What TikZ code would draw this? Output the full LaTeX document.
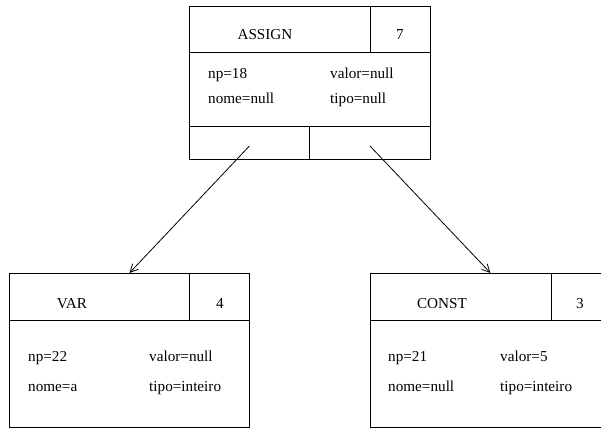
\documentclass[tikz,border=0pt]{standalone}
\usepackage{fontspec}
\setmainfont{Liberation Serif}
\usetikzlibrary{arrows.meta,positioning}

\begin{document}
\begin{tikzpicture}[
  x=1pt, y=-1pt,
  cell/.style={draw, line width=0.9pt, anchor=north west, inner sep=0pt, minimum width=#1},
  hdr/.style={cell=#1, minimum height=47pt},
  txt/.style={font=\fontsize{15.2pt}{18pt}\selectfont, inner sep=0pt, anchor=base},
  field/.style={txt, anchor=base west},
  arrow/.style={-{Straight Barb[length=8pt,width=8pt]}, line width=0.8pt}
]
  \useasboundingbox (0,0) rectangle (601,430);
  \begin{scope}
  \clip (0,0) rectangle (601,430);

  % ASSIGN
  \node[hdr=181pt, minimum height=46pt] (assignName) at (189,6) {};
  \node[hdr=60pt, minimum height=46pt] (assignNum) at (370,6) {};
  \node[cell=241pt, minimum height=74pt] (assignBody) at (189,52) {};
  \node[cell=120pt, minimum height=33pt] (assignL) at (189,126) {};
  \node[cell=121pt, minimum height=33pt] (assignR) at (309,126) {};
  \node[txt] at (265,40) {ASSIGN};
  \node[txt] at (400,40) {7};
  \node[field] at (208,79) {np=18};
  \node[field] at (330,79) {valor=null};
  \node[field] at (208,104) {nome=null};
  \node[field] at (330,104) {tipo=null};

  % VAR
  \node[hdr=180pt] (varName) at (9,273) {};
  \node[hdr=60pt] (varNum) at (189,273) {};
  \node[cell=240pt, minimum height=107pt] (varBody) at (9,320) {};
  \node[txt] at (72,308) {VAR};
  \node[txt] at (220,308) {4};
  \node[field] at (28,361) {np=22};
  \node[field] at (149,361) {valor=null};
  \node[field] at (28,391) {nome=a};
  \node[field] at (149,391) {tipo=inteiro};

  % CONST
  \node[hdr=181pt] (constName) at (370,273) {};
  \node[hdr=59pt] (constNum) at (551,273) {};
  \node[cell=240pt, minimum height=107pt] (constBody) at (370,320) {};
  \node[txt] at (442,308) {CONST};
  \node[txt] at (580,308) {3};
  \node[field] at (388,361) {np=21};
  \node[field] at (500,361) {valor=5};
  \node[field] at (388,391) {nome=null};
  \node[field] at (500,391) {tipo=inteiro};

  \coordinate (varTop) at (varName.north west -| varBody.north);
  \coordinate (constTop) at (constName.north west -| constBody.north);
  \draw[arrow] ([yshift=-3pt]assignL.center) -- (varTop);
  \draw[arrow] ([yshift=-3pt]assignR.center) -- (constTop);
  \end{scope}
\end{tikzpicture}
\end{document}
